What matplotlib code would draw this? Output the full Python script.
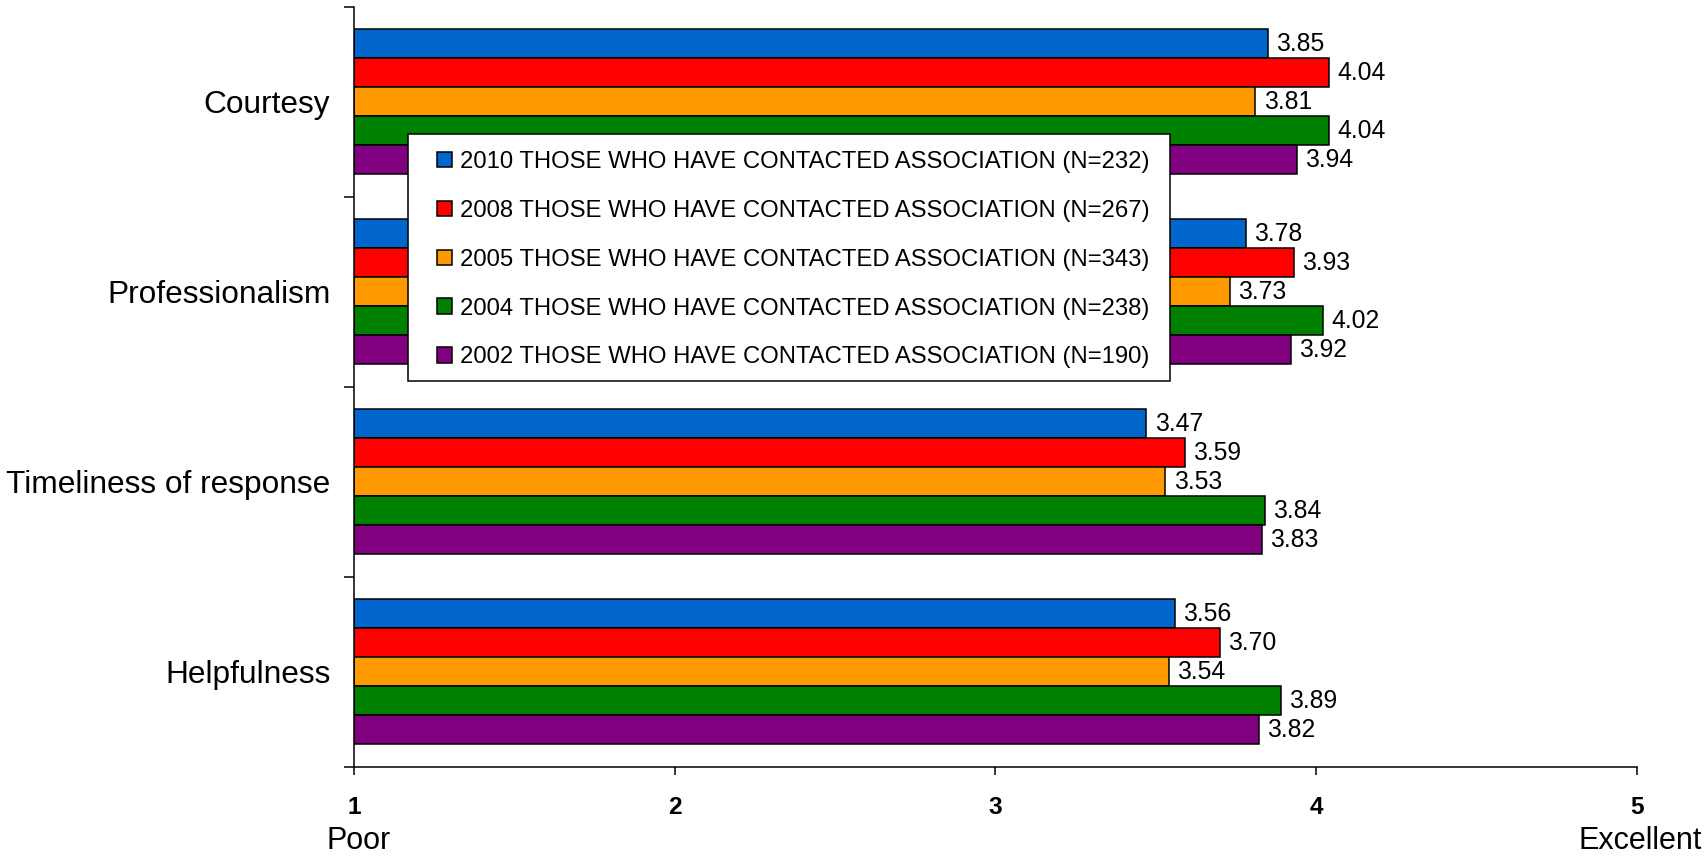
import matplotlib
matplotlib.use("Agg")
import matplotlib.pyplot as plt
from matplotlib.patches import Rectangle
import numpy as np

plt.rcParams['font.family'] = ['Liberation Sans', 'DejaVu Sans']

categories = ["Courtesy", "Professionalism", "Timeliness of response", "Helpfulness"]
series_labels = [
    "2010 THOSE WHO HAVE CONTACTED ASSOCIATION (N=232)",
    "2008 THOSE WHO HAVE CONTACTED ASSOCIATION (N=267)",
    "2005 THOSE WHO HAVE CONTACTED ASSOCIATION (N=343)",
    "2004 THOSE WHO HAVE CONTACTED ASSOCIATION (N=238)",
    "2002 THOSE WHO HAVE CONTACTED ASSOCIATION (N=190)",
]
values_2010 = [3.85, 3.78, 3.47, 3.56]
values_2008 = [4.04, 3.93, 3.59, 3.70]
values_2005 = [3.81, 3.73, 3.53, 3.54]
values_2004 = [4.04, 4.02, 3.84, 3.89]
values_2002 = [3.94, 3.92, 3.83, 3.82]
series_values = [values_2010, values_2008, values_2005, values_2004, values_2002]
colors = ["#0066CC", "#FF0000", "#FF9900", "#008000", "#800080"]
x_ticks = [1, 2, 3, 4, 5]

W, H = 1706, 856
fig = plt.figure(figsize=(W / 100, H / 100), dpi=100)
ax = fig.add_axes([354 / W, 89 / H, (1637 - 354) / W, (767 - 6.5) / H])

n_cat = len(categories)
n_ser = len(series_values)
bar_h = 0.1526
centers = np.arange(n_cat)[::-1].astype(float)  # first category at the top

for i, (vals, col, lab) in enumerate(zip(series_values, colors, series_labels)):
    y = centers + (n_ser / 2 - 0.5 - i) * bar_h
    ax.barh(y, np.array(vals) - 1, left=1, height=bar_h, color=col,
            edgecolor="black", linewidth=1.1, label=lab, zorder=2)
    for v, yy in zip(vals, y):
        ax.annotate(f"{v:.2f}", xy=(v, yy), xytext=(6.0, 0), textcoords="offset points",
                    ha="left", va="center", fontsize=17.8, zorder=1)

ax.set_xlim(1, 5)
ax.set_ylim(-0.5, n_cat - 0.5)

# category boundaries as ticks, names centred in each band
ax.set_yticks(np.arange(n_cat + 1) - 0.5)
ax.set_yticklabels([])
ax.set_yticks(centers, minor=True)
ax.set_yticklabels(categories, minor=True, fontsize=22.8)
ax.tick_params(axis="y", which="major", direction="out", length=7.5, width=1.1)
ax.tick_params(axis="y", which="minor", length=0, pad=17)

ax.set_xticks(x_ticks)
ax.set_xticklabels([str(t) for t in x_ticks], fontsize=17.6, fontweight="bold")
ax.tick_params(axis="x", direction="out", length=6, width=1.1, pad=15)

for s in ["top", "right"]:
    ax.spines[s].set_visible(False)
for s in ["left", "bottom"]:
    ax.spines[s].set_linewidth(1.1)

fig.text(327 / W, 1 - 841 / H, "Poor", fontsize=22, ha="left", va="center")
fig.text(1702 / W, 1 - 841 / H, "Excellent", fontsize=22, ha="right", va="center")

# legend box drawn over the bars
box = Rectangle((408 / W, 1 - 381 / H), (1170 - 408) / W, (381 - 134) / H,
                transform=fig.transFigure, facecolor="white", edgecolor="black",
                linewidth=1.1, zorder=4, clip_on=False)
ax.add_patch(box)

leg = ax.legend(loc="upper left", bbox_to_anchor=(437 / W, 1 - 151 / H),
                bbox_transform=fig.transFigure, borderaxespad=0, borderpad=0,
                fontsize=17.2, handlelength=0.63, handleheight=0.63,
                handletextpad=0.33, labelspacing=1.125, frameon=False)
leg.set_zorder(5)
for h in leg.legend_handles:
    h.set_linewidth(1.1)

fig.savefig("out.png", dpi=100)
